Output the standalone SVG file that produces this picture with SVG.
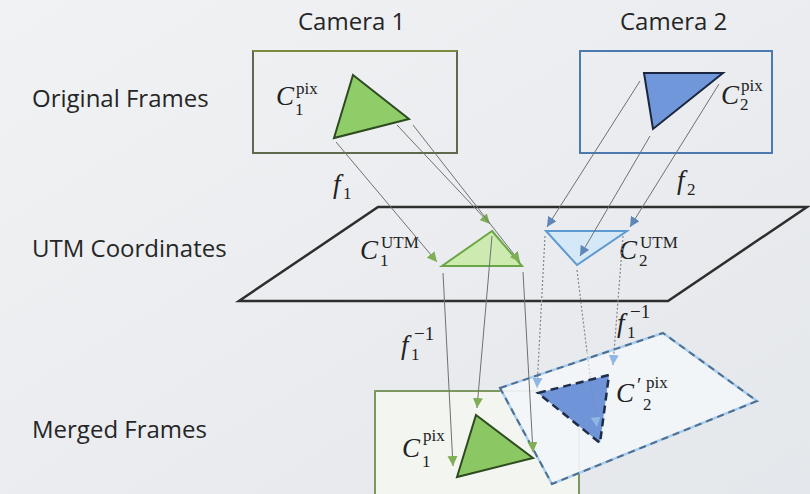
<svg xmlns="http://www.w3.org/2000/svg" width="810" height="494" viewBox="0 0 810 494">
<defs>
<linearGradient id="bg" x1="0" y1="0" x2="1" y2="1">
<stop offset="0" stop-color="#f1f2f4"/>
<stop offset="1" stop-color="#e4e7eb"/>
</linearGradient>
<marker id="ag" viewBox="0 0 10 10" refX="10" refY="5" markerWidth="10" markerHeight="10" markerUnits="userSpaceOnUse" orient="auto"><path d="M0,0 L10,5 L0,10 z" fill="#7fae55"/></marker>
<marker id="ab" viewBox="0 0 10 10" refX="10" refY="5" markerWidth="10" markerHeight="10" markerUnits="userSpaceOnUse" orient="auto"><path d="M0,0 L10,5 L0,10 z" fill="#5f86b8"/></marker>
<marker id="abl" viewBox="0 0 10 10" refX="10" refY="5" markerWidth="10" markerHeight="10" markerUnits="userSpaceOnUse" orient="auto"><path d="M0,0 L10,5 L0,10 z" fill="#8fb6e4"/></marker>
<style>
.lbl{font-family:"Open Sans","Liberation Sans",sans-serif;font-size:24px;fill:#262626}
.m{font-family:"Liberation Serif","DejaVu Serif",serif;fill:#222}
.mi{font-style:italic;font-size:27px}
.ms{font-size:17px}
.mx{font-size:19px}
.con{fill:none;stroke:#707070;stroke-width:1}
.dot{fill:none;stroke:#808890;stroke-width:1.2;stroke-dasharray:2,2}
</style>
</defs>
<rect width="810" height="494" fill="url(#bg)"/>

<g id="row-labels">
<text class="lbl" x="32" y="107">Original Frames</text>
<text class="lbl" x="32" y="257">UTM Coordinates</text>
<text class="lbl" x="32" y="438">Merged Frames</text>
<text class="lbl" x="298" y="30">Camera 1</text>
<text class="lbl" x="620" y="30">Camera 2</text>
</g>

<g id="camera1">
<rect x="253" y="51" width="204" height="102" fill="none" stroke="#5f6a4c" stroke-width="2"/>
<line x1="253" y1="51" x2="457" y2="51" stroke="#7a8a3e" stroke-width="2"/>
<polygon points="353,75 409,119 334,138" fill="#8fcd68" stroke="#2e4a20" stroke-width="2"/>
<text class="m mi" x="276" y="105">C</text>
<text class="m ms" x="296" y="94">pix</text>
<text class="m ms" x="295" y="115">1</text>
</g>

<g id="camera2">
<rect x="580" y="51" width="192" height="102" fill="none" stroke="#4d7aae" stroke-width="2"/>
<polygon points="644,73 723,73 653,129" fill="#7097da" stroke="#1b2740" stroke-width="2"/>
<text class="m mi" x="721" y="104">C</text>
<text class="m ms" x="741" y="91">pix</text>
<text class="m ms" x="740" y="110">2</text>
</g>

<g id="utm-plane">
<polygon points="378,207 807,207 668,301 239,301" fill="none" stroke="#2e2e2e" stroke-width="2.5"/>
</g>

<g id="utm-cam1">
<polygon points="492,231 522,266 442,266" fill="#cdebb0" stroke="#6aa646" stroke-width="2"/>
<text class="m mi" x="360" y="259">C</text>
<text class="m ms" x="381" y="248">UTM</text>
<text class="m ms" x="380" y="266">1</text>
</g>

<g id="utm-cam2">
<polygon points="546,231 627,231 577,265" fill="#d4e8f8" stroke="#5e9ad2" stroke-width="2"/>
<text class="m mi" x="619" y="259">C</text>
<text class="m ms" x="640" y="248">UTM</text>
<text class="m ms" x="639" y="266">2</text>
</g>

<g id="merged-cam1">
<rect x="375" y="391" width="204" height="104" fill="#f4f6ef" fill-opacity="0.9" stroke="#7c9860" stroke-width="2"/>
<polygon points="476,415 533,458 457,477" fill="#8bc864" stroke="#2e4a20" stroke-width="2"/>
<text class="m mi" x="402" y="457">C</text>
<text class="m ms" x="423" y="441">pix</text>
<text class="m ms" x="422" y="467">1</text>
</g>

<g id="merged-cam2">
<polygon points="500,388 663,333 757,401 552,484" fill="#f3f5f8" fill-opacity="0.92" stroke="#a8cdef" stroke-width="2.5"/>
<polygon points="500,388 663,333 757,401 552,484" fill="none" stroke="#4f6d8c" stroke-width="2" stroke-dasharray="7,5"/>
<polygon points="538,393 609,375 600,443" fill="#6f94d8" stroke="#1f2d48" stroke-width="2.5" stroke-dasharray="8,5"/>
<text class="m mi" x="616" y="402">C</text>
<text class="m" x="637" y="392" font-size="20">′</text>
<text class="m ms" x="646" y="388">pix</text>
<text class="m ms" x="643" y="410">2</text>
</g>

<g id="connectors">
<line class="con" x1="336" y1="142" x2="437" y2="262" marker-end="url(#ag)"/>
<line class="con" x1="397" y1="125" x2="490" y2="224" marker-end="url(#ag)"/>
<line class="con" x1="413" y1="125" x2="520" y2="262" marker-end="url(#ag)"/>
<line class="con" x1="640" y1="81" x2="547" y2="227" marker-end="url(#ab)"/>
<line class="con" x1="650" y1="136" x2="580" y2="256" marker-end="url(#ab)"/>
<line class="con" x1="719" y1="84" x2="630" y2="227" marker-end="url(#ab)"/>
<line class="con" x1="443" y1="273" x2="453" y2="466" marker-end="url(#ag)"/>
<line class="con" x1="492" y1="236" x2="477" y2="408" marker-end="url(#ag)"/>
<line class="con" x1="523" y1="272" x2="533" y2="452" marker-end="url(#ag)"/>
<line class="dot" x1="545" y1="236" x2="537" y2="388" marker-end="url(#abl)"/>
<line class="dot" x1="577" y1="270" x2="587" y2="352"/>
<line class="dot" x1="587" y1="352" x2="597" y2="427" stroke-opacity="0.35" marker-end="url(#abl)"/>
<line class="dot" x1="623" y1="236" x2="613" y2="365" marker-end="url(#abl)"/>
</g>

<g id="edge-labels">
<text class="m mi" x="333" y="193">f</text>
<text class="m ms" x="343" y="199">1</text>
<text class="m mi" x="677" y="189">f</text>
<text class="m ms" x="687" y="195">2</text>
<text class="m mi" x="401" y="354">f</text>
<text class="m ms" x="411" y="360">1</text>
<text class="m mx" x="414" y="340">−1</text>
<text class="m mi" x="617" y="332">f</text>
<text class="m ms" x="627" y="338">1</text>
<text class="m mx" x="630" y="318">−1</text>
</g>
</svg>
